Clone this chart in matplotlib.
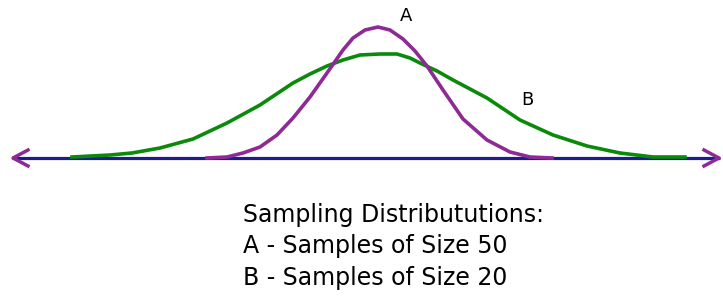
import numpy as np
import matplotlib
matplotlib.use("Agg")
import matplotlib.pyplot as plt

# curve B (samples of size 20) - x position, height above the axis
b_x = [72, 110, 132, 160, 193, 227, 260, 293, 310, 327, 343, 360, 380, 397, 410, 420, 437, 453, 470, 487, 520, 553, 587, 620, 653, 685]
b_h = [1, 3, 5, 10, 19, 35, 53, 75, 84, 92, 98, 103, 104, 104, 100, 95, 87, 78, 69, 60, 38, 23, 12, 5, 1, 1]

# curve A (samples of size 50)
a_x = [207, 227, 243, 260, 277, 293, 310, 327, 343, 353, 365, 378, 390, 403, 415, 427, 443, 463, 487, 510, 530, 552]
a_h = [0, 1, 5, 11, 23, 40, 61, 85, 108, 120, 128, 131, 128, 119, 107, 92, 68, 39, 18, 6, 1, 0]

lineas = ["Sampling Distribututions:", "A - Samples of Size 50", "B - Samples of Size 20"]

fig = plt.figure(figsize=(7.23, 3.01), dpi=100)
ax = fig.add_axes([0, 0, 1, 1])
ax.set_xlim(0, 723)
ax.set_ylim(-143, 158)
ax.axis("off")

verde = "#0a8a0a"
morado = "#8e2a96"
azul = "#1c1c8c"

# eje con flechas
ax.plot([12, 720], [0, 0], color=azul, lw=2.3, solid_capstyle="butt", zorder=1)
ax.plot([28, 13, 28], [8, 0, -8], color=morado, lw=2.5, zorder=3)
ax.plot([704, 719, 704], [8, 0, -8], color=morado, lw=2.5, zorder=3)

ax.plot(b_x, b_h, color=verde, lw=2.6, zorder=2)
ax.plot(a_x, a_h, color=morado, lw=2.6, zorder=2)

ax.text(406, 142, "A", fontsize=13, ha="center", va="center", family="DejaVu Sans")
ax.text(527, 58, "B", fontsize=13, ha="center", va="center", family="DejaVu Sans")

for i, t in enumerate(lineas):
    ax.text(243, -57 - i * 31.5, t, fontsize=17, ha="left", va="center", family="DejaVu Sans")

fig.savefig("out.png", dpi=100)
